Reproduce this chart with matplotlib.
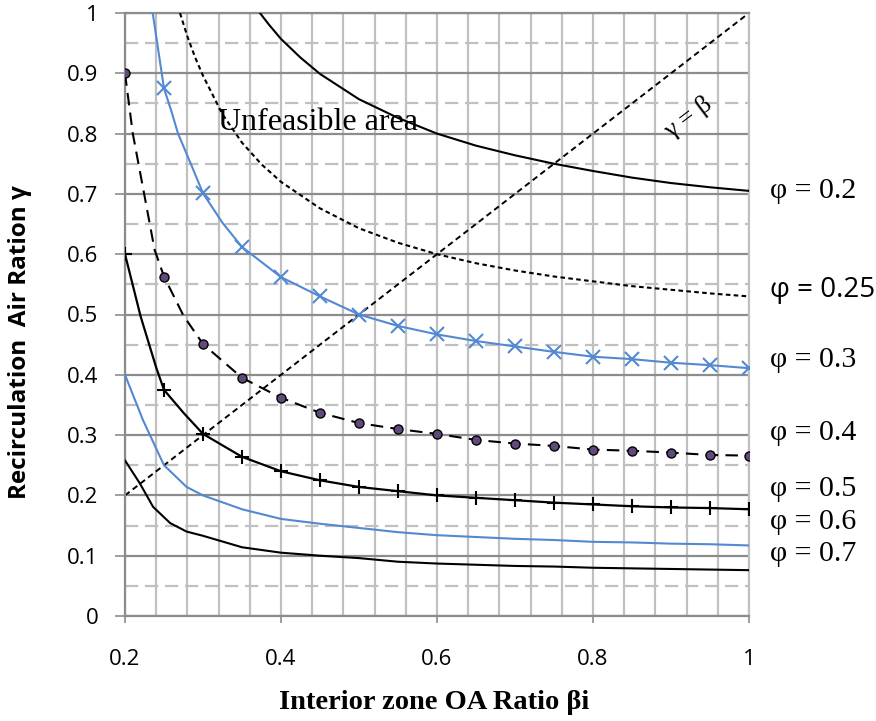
import numpy as np
import matplotlib
matplotlib.use("Agg")
import matplotlib.pyplot as plt
from matplotlib.ticker import MultipleLocator, FixedLocator

# curve data (beta = interior zone OA ratio, gamma = recirculation ratio)
beta_p20 = [0.373, 0.385, 0.40, 0.425, 0.45, 0.50, 0.55, 0.60, 0.65, 0.70, 0.75, 0.80, 0.85, 0.90, 0.95, 1.00]
gamma_p20 = [1.00, 0.980, 0.957, 0.926, 0.899, 0.857, 0.826, 0.800, 0.780, 0.764, 0.750, 0.738, 0.727, 0.718, 0.711, 0.705]

beta_p25 = [0.2705, 0.28, 0.29, 0.30, 0.325, 0.35, 0.375, 0.40, 0.45, 0.50, 0.55, 0.60, 0.65, 0.70, 0.75, 0.80, 0.85, 0.90, 0.95, 1.00]
gamma_p25 = [1.00, 0.961, 0.926, 0.896, 0.832, 0.785, 0.749, 0.720, 0.676, 0.643, 0.619, 0.600, 0.585, 0.573, 0.563, 0.555, 0.547, 0.541, 0.535, 0.530]

beta_p30 = [0.2355, 0.25, 0.26, 0.268, 0.285, 0.30, 0.325, 0.35, 0.40, 0.45, 0.50, 0.55, 0.60, 0.65, 0.70, 0.75, 0.80, 0.85, 0.90, 0.95, 1.00]
gamma_p30 = [1.00, 0.875, 0.835, 0.800, 0.748, 0.701, 0.652, 0.612, 0.562, 0.530, 0.500, 0.481, 0.467, 0.456, 0.447, 0.438, 0.430, 0.426, 0.420, 0.416, 0.411]
marks_p30 = [1] + list(range(5, 6)) + list(range(7, 21))

beta_p40 = [0.20, 0.21, 0.226, 0.238, 0.25, 0.275, 0.30, 0.35, 0.40, 0.45, 0.50, 0.55, 0.60, 0.65, 0.70, 0.75, 0.80, 0.85, 0.90, 0.95, 1.00]
gamma_p40 = [0.900, 0.800, 0.690, 0.607, 0.563, 0.498, 0.451, 0.395, 0.362, 0.337, 0.320, 0.310, 0.302, 0.292, 0.286, 0.282, 0.276, 0.274, 0.271, 0.267, 0.266]
marks_p40 = [0, 4] + list(range(6, 21))

beta_p50 = [0.20, 0.22, 0.24, 0.25, 0.275, 0.30, 0.35, 0.40, 0.45, 0.50, 0.55, 0.60, 0.65, 0.70, 0.75, 0.80, 0.85, 0.90, 0.95, 1.00]
gamma_p50 = [0.600, 0.497, 0.412, 0.375, 0.337, 0.302, 0.264, 0.240, 0.225, 0.214, 0.207, 0.200, 0.196, 0.192, 0.188, 0.185, 0.182, 0.180, 0.179, 0.177]
marks_p50 = [0, 3] + list(range(5, 20))

beta_p60 = [0.20, 0.223, 0.25, 0.279, 0.30, 0.35, 0.40, 0.45, 0.50, 0.55, 0.60, 0.65, 0.70, 0.75, 0.80, 0.85, 0.90, 0.95, 1.00]
gamma_p60 = [0.400, 0.325, 0.250, 0.214, 0.200, 0.177, 0.161, 0.153, 0.146, 0.139, 0.134, 0.131, 0.128, 0.126, 0.123, 0.122, 0.120, 0.119, 0.117]

beta_p70 = [0.20, 0.219, 0.236, 0.258, 0.279, 0.30, 0.35, 0.40, 0.45, 0.50, 0.55, 0.60, 0.65, 0.70, 0.75, 0.80, 0.85, 0.90, 0.95, 1.00]
gamma_p70 = [0.258, 0.220, 0.181, 0.154, 0.140, 0.133, 0.114, 0.105, 0.100, 0.096, 0.090, 0.087, 0.085, 0.083, 0.082, 0.080, 0.079, 0.078, 0.077, 0.076]

diag_beta = [0.2, 1.0]
diag_gamma = [0.2, 1.0]

phi_labels = ["φ = 0.2", "φ = 0.25", "φ = 0.3", "φ = 0.4", "φ = 0.5", "φ = 0.6", "φ = 0.7"]
phi_label_y = [0.705, 0.541, 0.425, 0.303, 0.211, 0.156, 0.103]

x_ticks = [0.2, 0.4, 0.6, 0.8, 1.0]
x_ticklabels = ["0.2", "0.4", "0.6", "0.8", "1"]
y_ticks = [0, 0.1, 0.2, 0.3, 0.4, 0.5, 0.6, 0.7, 0.8, 0.9, 1.0]
y_ticklabels = ["0", "0.1", "0.2", "0.3", "0.4", "0.5", "0.6", "0.7", "0.8", "0.9", "1"]

BLUE = "#5389d3"
GRID_LIGHT = "#c0c0c0"
GRID_DARK = "#8c8c8c"

fig = plt.figure(figsize=(8.76, 7.21), dpi=100)
ax = fig.add_axes([125 / 876, 1 - 616 / 721, 624 / 876, 603 / 721])

# grid: vertical every 0.04, horizontal solid every 0.1 and dashed in between
ax.set_xlim(0.2, 1.0)
ax.set_ylim(0, 1.0)
ax.xaxis.set_major_locator(FixedLocator(x_ticks))
ax.xaxis.set_minor_locator(MultipleLocator(0.04))
ax.yaxis.set_major_locator(FixedLocator(y_ticks))
ax.yaxis.set_minor_locator(FixedLocator([0.05 + 0.1 * i for i in range(10)]))
ax.grid(which="both", axis="x", color=GRID_LIGHT, lw=1.6, zorder=0)
ax.grid(which="major", axis="y", color=GRID_DARK, lw=1.6, zorder=0)
ax.grid(which="minor", axis="y", color=GRID_LIGHT, lw=1.6, ls=(0, (6, 3)), zorder=0)
ax.set_axisbelow(True)

for side in ["left", "bottom", "top"]:
    ax.spines[side].set_color(GRID_DARK)
    ax.spines[side].set_linewidth(1.6)
ax.spines["right"].set_color(GRID_LIGHT)
ax.spines["right"].set_linewidth(1.6)

# curves
ax.plot(diag_beta, diag_gamma, color="black", lw=1.4, dashes=(3, 2), zorder=2)
ax.plot(beta_p20, gamma_p20, color="black", lw=1.5, zorder=3)
ax.plot(beta_p25, gamma_p25, color="black", lw=1.5, dashes=(2.2, 1.6), zorder=3)
ax.plot(beta_p30, gamma_p30, color=BLUE, lw=1.5, marker="x", ms=10, mew=1.5,
        markevery=marks_p30, zorder=3)
ax.plot(beta_p40, gamma_p40, color="black", lw=1.5, dashes=(6, 3.5), marker="o", ms=6.5,
        mfc="#604a7b", mec="black", mew=1.0, markevery=marks_p40, zorder=3)
ax.plot(beta_p50, gamma_p50, color="black", lw=1.6, marker="+", ms=10, mew=1.5,
        markevery=marks_p50, zorder=3)
ax.plot(beta_p60, gamma_p60, color=BLUE, lw=1.5, zorder=3)
ax.plot(beta_p70, gamma_p70, color="black", lw=1.5, zorder=3)

# annotations
ax.text(0.447, 0.818, "Unfeasible area", family="Liberation Serif", fontsize=23,
        ha="center", va="center", zorder=4)
ax.text(0.922, 0.826, "γ = β", family="Liberation Serif", fontsize=19,
        ha="center", va="center", rotation=37, zorder=4)
for lab, yv in zip(phi_labels, phi_label_y):
    if lab.endswith("0.25"):
        fam, size = "Open Sans", 20
    else:
        fam, size = "Liberation Serif", 21.5
    ax.text(1.027, yv, lab, family=fam, fontsize=size, ha="left", va="center",
            clip_on=False)

# ticks and labels
ax.set_xticklabels(x_ticklabels)
ax.set_yticklabels(y_ticklabels)
ax.tick_params(which="minor", length=0)
ax.tick_params(axis="y", which="major", length=7, width=1.2, color=GRID_DARK, pad=12,
               labelsize=16, labelfontfamily="Open Sans")
ax.tick_params(axis="x", which="major", length=5, width=1.2, color=GRID_DARK, pad=19,
               labelsize=16, labelfontfamily="Open Sans")

ax.set_xlabel("Interior zone OA Ratio βi", family="Liberation Serif", fontweight="bold",
              fontsize=20.5, va="center")
ax.xaxis.set_label_coords(0.495, -0.144)
ax.set_ylabel("Recirculation  Air Ration γ", family="Open Sans", fontweight="bold",
              fontsize=17.5, va="center")
ax.yaxis.set_label_coords(-0.168, 0.455)

fig.savefig("out.png", dpi=100)
plt.close(fig)
